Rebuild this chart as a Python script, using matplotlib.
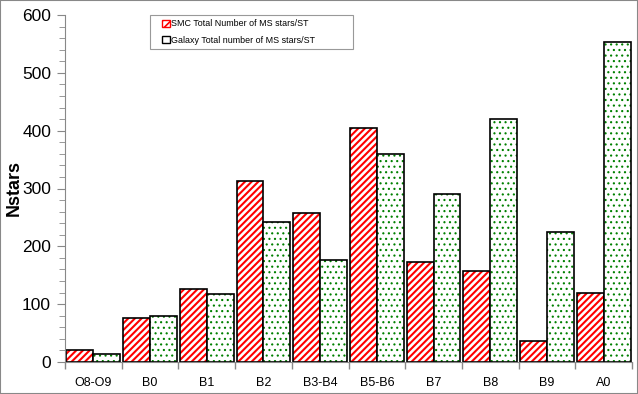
import matplotlib
matplotlib.use("Agg")
import matplotlib.pyplot as plt
import numpy as np
from matplotlib.patches import Rectangle
from matplotlib.ticker import MultipleLocator

categories = ["O8-O9", "B0", "B1", "B2", "B3-B4", "B5-B6", "B7", "B8", "B9", "A0"]
smc = [21, 76, 127, 313, 258, 405, 173, 157, 37, 119]
galaxy = [14, 79, 117, 242, 176, 359, 290, 420, 225, 553]
legend_labels = ["SMC Total Number of MS stars/ST", "Galaxy Total number of MS stars/ST"]

plt.rcParams['font.family'] = ['Liberation Sans', 'DejaVu Sans']

fig = plt.figure(figsize=(6.38, 3.94), dpi=100)
ax = fig.add_axes([65/638, 1-362/394, (632-65)/638, (362-15)/394])

x = np.arange(len(categories))
w = 0.475

# SMC: red hatch
plt.rcParams['hatch.linewidth'] = 1.5
ax.bar(x - w/2, smc, w, facecolor='white', edgecolor='red', hatch='/////', linewidth=0)
ax.bar(x - w/2, smc, w, facecolor='none', edgecolor='black', linewidth=1.2)
# Galaxy: green dots
plt.rcParams['hatch.linewidth'] = 0.8
ax.bar(x + w/2, galaxy, w, facecolor='white', edgecolor='green', hatch='...', linewidth=0)
ax.bar(x + w/2, galaxy, w, facecolor='none', edgecolor='black', linewidth=1.2)

ax.set_xlim(-0.5, len(categories) - 0.5)
ax.set_ylim(0, 600)
ax.yaxis.set_major_locator(MultipleLocator(100))
ax.yaxis.set_minor_locator(MultipleLocator(20))
ax.set_xticks(x)
ax.set_xticklabels(categories, fontsize=9)
ax.set_xticks(np.arange(-0.5, len(categories)), minor=True)
ax.tick_params(axis='x', which='major', length=0, pad=11)
ax.tick_params(axis='x', which='minor', length=5, color='#888888', width=1)
ax.tick_params(axis='y', which='major', length=6, color='#888888', labelsize=12.5, pad=4)
ax.tick_params(axis='y', which='minor', length=4, color='#888888')
for s in ['top', 'right']:
    ax.spines[s].set_visible(False)
for s in ['left', 'bottom']:
    ax.spines[s].set_color('#888888')
ax.set_ylabel("Nstars", fontsize=13, fontweight='bold')
ax.yaxis.set_label_coords(-0.074, 0.5)

# legend box
ax.add_patch(Rectangle(((150-65)/567, (362-49)/347), (353-150)/567, 34/347,
                       transform=ax.transAxes, facecolor='white', edgecolor='#999999',
                       linewidth=0.8, zorder=4, clip_on=False))
plt.rcParams['hatch.linewidth'] = 1.2
h1 = Rectangle((0, 0), 1, 1, facecolor='white', edgecolor='red', hatch='////')
h2 = Rectangle((0, 0), 1, 1, facecolor='white', edgecolor='black')
leg = ax.legend([h1, h2], legend_labels, loc='upper left',
                bbox_to_anchor=((158-65)/567, 1.0), fontsize=6.4,
                frameon=False,
                handlelength=0.8, handleheight=0.8, handletextpad=0.2,
                borderpad=0.5, labelspacing=0.8, borderaxespad=0.0)
leg.set_zorder(5)

# figure border
fig.patches.append(Rectangle((0, 0), 1, 1, transform=fig.transFigure,
                             facecolor='none', edgecolor='#888888', linewidth=1.5))

fig.savefig("out.png", dpi=100)
